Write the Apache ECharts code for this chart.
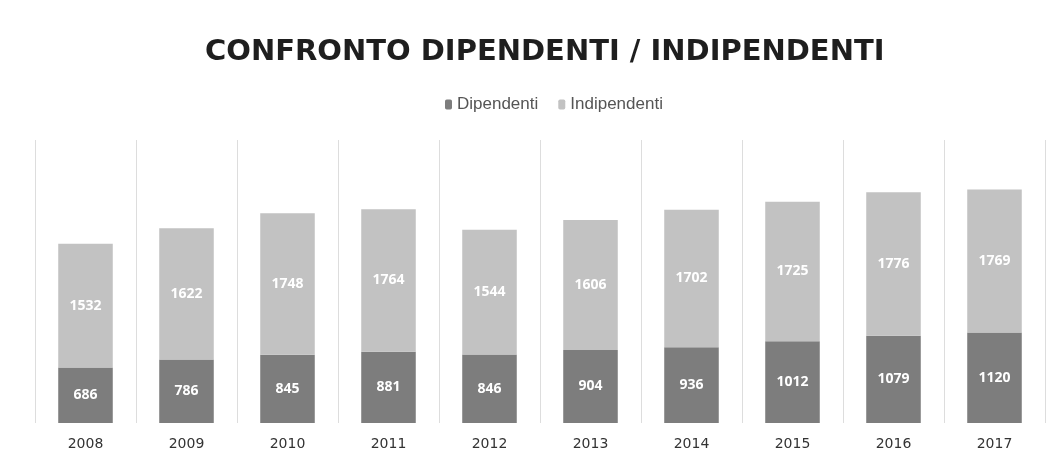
<!DOCTYPE html>
<html>
<head>
<meta charset="utf-8">
<script src="https://cdn.jsdelivr.net/npm/echarts@6/dist/echarts.min.js"></script>
<style>
  html, body { margin: 0; padding: 0; background: #fff; }
  #chart { width: 1051px; height: 452px; }
</style>
</head>
<body>
<div id="chart"></div>
<script>
var anni = ['2008', '2009', '2010', '2011', '2012', '2013', '2014', '2015', '2016', '2017'];
var dipendenti = [686, 786, 845, 881, 846, 904, 936, 1012, 1079, 1120];
var indipendenti = [1532, 1622, 1748, 1764, 1544, 1606, 1702, 1725, 1776, 1769];

var chart = echarts.init(document.getElementById('chart'));

var etichetta = {
  show: true,
  position: 'inside',
  color: '#fff',
  fontFamily: 'Open Sans',
  fontWeight: 'bold',
  fontSize: 14
};

chart.setOption({
  animation: false,
  backgroundColor: '#fff',
  title: {
    text: 'CONFRONTO DIPENDENTI / INDIPENDENTI',
    left: 200,
    top: 33,
    textStyle: {
      fontFamily: 'DejaVu Sans',
      fontWeight: 'bold',
      fontSize: 29,
      color: '#1e1e1e'
    }
  },
  legend: {
    top: 91,
    left: 440,
    itemWidth: 7,
    itemHeight: 10,
    itemGap: 20,
    textStyle: { fontFamily: 'Liberation Sans', fontSize: 17, color: '#555' },
    data: ['Dipendenti', 'Indipendenti']
  },
  grid: { left: 35, right: 6, top: 140, bottom: 29 },
  xAxis: {
    type: 'category',
    data: anni,
    axisLine: { show: false },
    axisTick: { show: false },
    axisLabel: {
      color: '#333',
      fontFamily: 'DejaVu Sans',
      fontSize: 14,
      margin: 14
    },
    splitLine: { show: true, lineStyle: { color: '#ddd', width: 1 } }
  },
  yAxis: {
    type: 'value',
    min: 0,
    max: 3500,
    show: false
  },
  series: [
    {
      name: 'Dipendenti',
      type: 'bar',
      stack: 'tot',
      barWidth: '54%',
      itemStyle: { color: '#7d7d7d' },
      label: etichetta,
      data: dipendenti
    },
    {
      name: 'Indipendenti',
      type: 'bar',
      stack: 'tot',
      itemStyle: { color: '#c2c2c2' },
      label: etichetta,
      data: indipendenti
    }
  ]
});
</script>
</body>
</html>
